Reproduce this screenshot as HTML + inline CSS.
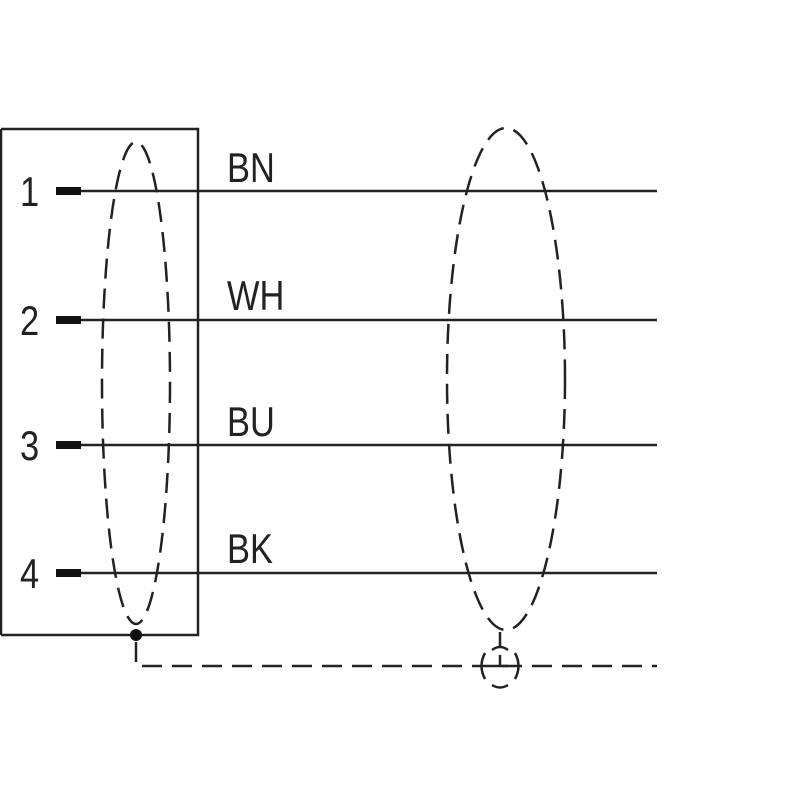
<!DOCTYPE html>
<html><head><style>body{margin:0;background:#fff}svg{display:block}</style></head><body>
<svg width="800" height="800" viewBox="0 0 800 800" xmlns="http://www.w3.org/2000/svg">
<rect width="800" height="800" fill="#fff"/>
<g stroke="#222" fill="none" stroke-width="2.5">
<polyline points="1,129 198,129 198,635 1,635"/>
<line x1="1" y1="129" x2="1" y2="635"/>
<line x1="80" y1="191" x2="657" y2="191"/>
<line x1="80" y1="320" x2="657" y2="320"/>
<line x1="80" y1="445" x2="657" y2="445"/>
<line x1="80" y1="573" x2="657" y2="573"/>
</g>
<g fill="#111">
<rect x="56" y="187" width="25" height="8"/>
<rect x="56" y="316" width="25" height="8"/>
<rect x="56" y="441" width="25" height="8"/>
<rect x="56" y="569" width="25" height="8"/>
<circle cx="136" cy="635" r="6"/>
</g>
<g stroke="#222" fill="none" stroke-width="2.5" stroke-dasharray="20,10">
<ellipse cx="136" cy="383" rx="34" ry="241"/>
<ellipse cx="506" cy="379" rx="59" ry="251"/>
<polyline points="136,642 136,666 657,666"/>
</g>
<g stroke="#222" fill="none" stroke-width="2.5">
<line x1="500" y1="632" x2="500" y2="646"/>
<path d="M492,650 Q500,644 508,650"/>
<line x1="500" y1="655" x2="500" y2="666"/>
<line x1="492" y1="666" x2="508" y2="666"/>
<path d="M485,653 Q478,666 485,679"/>
<path d="M515,653 Q522,666 515,679"/>
<path d="M492,685 Q500,690 508,685"/>
</g>
<g font-family="Liberation Sans Narrow, Liberation Sans, sans-serif" font-size="42" fill="#222">
<text transform="translate(20,206) scale(0.82,1)">1</text>
<text transform="translate(20,335) scale(0.82,1)">2</text>
<text transform="translate(20,460) scale(0.82,1)">3</text>
<text transform="translate(20,588) scale(0.82,1)">4</text>
<text transform="translate(227,182) scale(0.82,1)">BN</text>
<text transform="translate(227,310) scale(0.82,1)">WH</text>
<text transform="translate(227,436) scale(0.82,1)">BU</text>
<text transform="translate(227,563) scale(0.82,1)">BK</text>
</g>
</svg>
</body></html>
